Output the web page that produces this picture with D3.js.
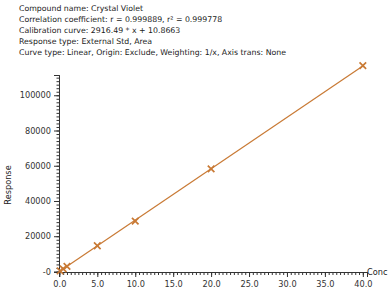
<!DOCTYPE html>
<html>
<head>
<meta charset="utf-8">
<script src="https://cdn.jsdelivr.net/npm/d3@7"></script>
<style>
  body { margin: 0; background: #fff; }
  svg { display: block; }
  .hdr { font-family: "DejaVu Sans", Verdana, sans-serif; font-size: 7.8px; fill: #222; }
  .tick text { font-family: "DejaVu Sans", Verdana, sans-serif; font-size: 8.2px; fill: #333; }
</style>
</head>
<body>
<svg id="chart"></svg>
<script>
// textos de cabecera
var headerLines = [
  "Compound name: Crystal Violet",
  "Correlation coefficient: r = 0.999889, r\u00B2 = 0.999778",
  "Calibration curve: 2916.49 * x + 10.8663",
  "Response type: External Std, Area",
  "Curve type: Linear, Origin: Exclude, Weighting: 1/x, Axis trans: None"
]

// datos
var conc = [0.1, 0.5, 1.0, 5.0, 10.0, 20.0, 40.0]
var response = [300, 1500, 2900, 14600, 28600, 58200, 116800]

// recta de calibracion
var slope = 2916.49, intercept = 10.8663

var xTicks = [-0.0001, 5, 10, 15, 20, 25, 30, 35, 40]
var yTicks = [-0.0001, 20000, 40000, 60000, 80000, 100000]

var w = 389, h = 295
var svg = d3.select('#chart').attr('width', w).attr('height', h)

svg.selectAll('text.hdr')
  .data(headerLines)
  .enter()
  .append('text')
  .attr('class', 'hdr')
  .attr('x', 19)
  .attr('y', function(d, i){ return 11 + i * 11 })
  .text(function(d){ return d })

var x = d3.scaleLinear().domain([-0.05, 40.55]).range([59, 367])
var y = d3.scaleLinear().domain([-300, 111500]).range([272, 75])

var axisColor = '#333'

// eje x con ticks menores
var gx = svg.append('g').attr('transform', 'translate(0,272)')
gx.call(d3.axisBottom(x).tickValues(d3.range(0, 40.5, 0.5)).tickSize(3).tickFormat(''))
gx.append('g').call(d3.axisBottom(x).tickValues(xTicks).tickSize(5)
    .tickFormat(function(d){ return d3.format('.1f')(d) }))
gx.selectAll('path, line').attr('stroke', axisColor)
gx.selectAll('.tick text').attr('dy', '0.85em')

svg.append('text')
  .attr('class', 'hdr')
  .attr('x', 367)
  .attr('y', 275)
  .style('font-size', '8.2px')
  .text('Conc')

// eje y
var gy = svg.append('g').attr('transform', 'translate(59,0)')
gy.call(d3.axisLeft(y).tickValues(d3.range(0, 111001, 2000)).tickSize(2.5).tickFormat(''))
gy.append('g').call(d3.axisLeft(y).tickValues(yTicks).tickSize(5)
    .tickFormat(function(d){ return d < 0 ? '-0' : d3.format('d')(d) }))
gy.selectAll('path, line').attr('stroke', axisColor)

svg.append('text')
  .attr('class', 'hdr')
  .attr('transform', 'translate(11,' + 185 + ') rotate(-90)')
  .attr('text-anchor', 'middle')
  .style('font-size', '8.2px')
  .text('Response')

var orange = '#c97a35'

// linea de calibracion
var lineX = [0, 40]
svg.append('line')
  .attr('x1', x(lineX[0])).attr('y1', y(slope * lineX[0] + intercept))
  .attr('x2', x(lineX[1])).attr('y2', y(slope * lineX[1] + intercept))
  .attr('stroke', orange)
  .attr('stroke-width', 1.2)

// marcadores X
var s = 3.3
var pts = svg.selectAll('g.pt')
  .data(conc)
  .enter()
  .append('g')
  .attr('class', 'pt')
  .attr('transform', function(d, i){ return 'translate(' + x(d) + ',' + y(response[i]) + ')' })
pts.append('path')
  .attr('d', 'M' + (-s) + ',' + (-s) + 'L' + s + ',' + s + 'M' + (-s) + ',' + s + 'L' + s + ',' + (-s))
  .attr('stroke', orange)
  .attr('stroke-width', 1.7)
  .attr('fill', 'none')
</script>
</body>
</html>
